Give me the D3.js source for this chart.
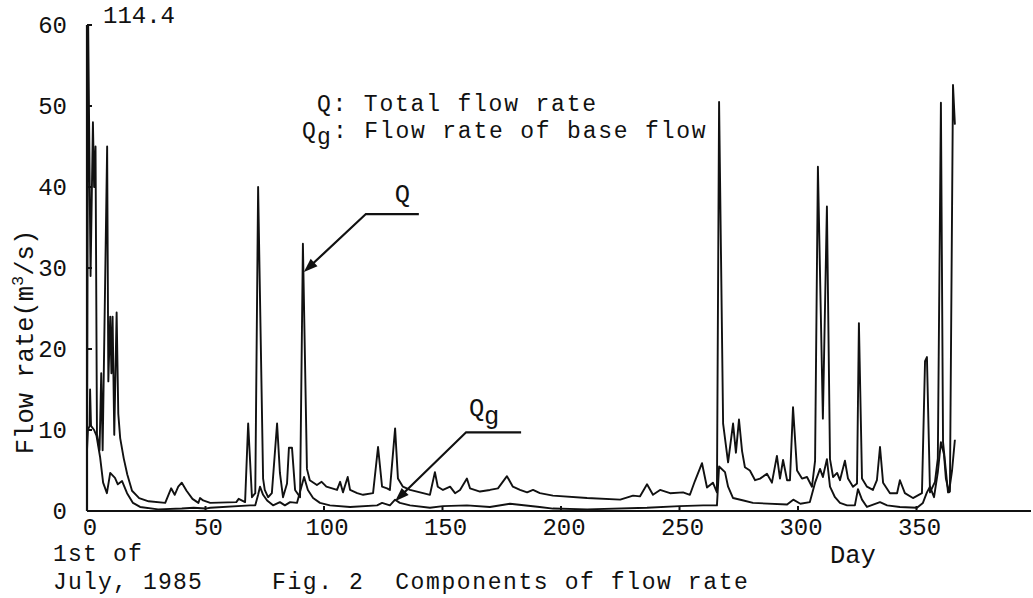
<!DOCTYPE html>
<html>
<head>
<meta charset="utf-8">
<script src="https://cdn.jsdelivr.net/npm/d3@7"></script>
<style>
  body { margin: 0; background: #fff; }
  text { font-family: "Liberation Mono", "DejaVu Sans Mono", monospace; fill: #111; }
</style>
</head>
<body>
<svg id="chart" width="1033" height="598"></svg>
<script>
// ---- data (day, m3/s) ----
var qDays = [0,0.5,1.5,2.5,3,3.6,4.2,5.3,6,6.6,8.5,9,9.8,10.3,10.8,11.5,12.5,13.2,14,15.5,17,19,22,26,33,35.5,37,38.5,40,42,44.5,47,
  47.7,49,52,63,64,66.7,68,69.6,71,72.2,74.3,75,76.4,78,80.2,81.4,82.7,84.4,85.2,86.5,87.8,89.9,91.1,92.8,94,97,99,101,105.5,106.8,108,110,111,114,116.5,
  120.7,122.8,124.5,126.6,127.8,130,131.2,133.3,136.3,141.8,144.7,146.8,148,150.2,153.2,155.3,157.4,160.3,161.6,165.8,170,173.4,177.2,179.7,182.7,185.7,188.2,191.1,196.6,
  211,225,230.4,233.3,236.3,238.8,241.8,246,251.5,254.4,256.5,259.5,261.6,264.1,265.8,266.7,268.4,270.5,272.6,273.8,275.1,276.4,277.6,279.7,281.9,284,286.9,289,
  291.1,292.4,293.7,295.4,296.6,297.9,299.6,301.7,303.8,305.9,307.2,308.4,310.5,312.2,313.5,314.8,316.5,317.7,319.8,321.1,323.2,324.9,325.7,327,329.1,331.6,333.3,
  334.6,335.9,338.8,341.8,343,345.1,348.5,352.3,353.6,354.4,355.7,357.8,359,360.3,361.2,363.3,364.1,365.4,366.2];
var qValues = [7.5,114.4,29,48,40,45,9.5,7.5,17,7.5,45,16,24,17,24,9.4,24.5,12,9,6.5,4.5,2.5,1.6,1.2,1.0,2.8,2.0,3.0,3.5,2.5,1.5,1.0,
  1.6,1.3,1.0,1.1,1.5,1.1,10.8,1.7,2.2,40,4,2.6,1.7,2.2,10.8,4.7,1.7,3.4,7.8,7.8,2.6,1.7,33,5.2,3.8,3.2,3.6,3.0,2.6,3.6,2.3,4.2,2.6,2.2,2.0,
  2.2,7.9,3.0,2.8,2.6,10.2,4.0,3.0,2.6,2.2,2.0,4.8,3.0,2.6,3.0,2.2,2.6,4.0,2.8,2.4,2.6,2.8,4.3,3.0,2.6,2.3,2.6,2.2,1.9,
  1.6,1.4,1.9,1.8,3.3,2.0,2.6,2.2,2.3,2.0,3.7,5.9,2.9,3.5,2.3,50.5,10.8,6,10.8,7.2,11.3,7.4,5.4,5.0,3.8,4.0,4.6,3.5,
  6.8,4.0,6.3,3.8,3.8,12.8,5.0,4.0,4.2,3.0,6.2,42.5,11.4,37.6,6.4,4.2,4.7,3.8,6.2,4.0,3.0,3.4,23.2,4.0,3.0,2.6,3.8,
  7.9,3.5,2.2,2.2,3.8,2.2,1.6,2.2,18.5,19,2.3,3.6,6.5,50.4,8.5,2.3,2.4,52.6,47.7];

var qgDays = [0,0.4,1.1,1.3,1.7,3,4,5.5,6.8,8.4,9.8,11.8,13,14.8,16.9,19.4,22.4,30,40,45,50,
  52,68.8,71,72.2,73,74.3,76,78.5,81.4,83.5,85.7,88.6,91.6,93.2,95.4,98.3,102.5,111,122.4,124.5,127.8,130,132,136.3,144.7,150.2,160.3,170,178.5,191,196.6,
  211,236.3,250,260,265.8,266.7,269.2,270.5,272.6,277,281,295.4,298,301,305,307.2,309.3,310.5,312.2,313.5,315.6,317.7,320.7,324,325.3,327,329.1,
  334.6,337.6,343,350.2,352.7,354.4,355.7,357.4,359,360.3,361.6,362.4,363.7,365,366.2];
var qgValues = [7.5,10,10.5,15,10.5,10,9.3,6.7,3.5,2.2,4.7,4.1,3.3,3.7,2.2,1.0,0.5,0.2,0.3,0.4,0.3,
  0.4,0.7,0.7,2.0,3.0,2.0,1.3,0.7,1.1,0.7,1.1,1.0,4.2,2.6,1.6,1.0,0.7,0.5,0.7,1.0,0.7,1.4,1.0,0.7,0.4,0.6,0.7,0.5,0.9,0.5,0.3,
  0.2,0.4,0.6,0.7,0.7,5.5,4.8,3.0,1.6,1.3,1.0,0.8,1.4,0.9,1.1,3.5,5.2,4.2,6.4,3.0,1.7,1.0,0.7,0.7,2.7,1.4,0.5,
  1.1,0.7,0.5,0.4,1.0,2.3,3.0,1.7,4.8,8.5,7.0,4.0,2.3,5.0,8.8];

var xTicks = [0, 50, 100, 150, 200, 250, 300, 350];
var yTicks = [0, 10, 20, 30, 40, 50, 60];

var svg = d3.select("#chart");
var font = 25.5;

var x = d3.scaleLinear().domain([0, 350]).range([87, 916.5]);
var y = d3.scaleLinear().domain([0, 60]).range([511, 25]).clamp(true);

var line = d3.line()
    .x(function(d){ return x(d[0]); })
    .y(function(d){ return y(d[1]); });

var qData = d3.zip(qDays, qValues);
var qgData = d3.zip(qgDays, qgValues);

// series
svg.append("path").datum(qgData)
    .attr("d", line).attr("fill", "none")
    .attr("stroke", "#111").attr("stroke-width", 1.9).attr("stroke-linejoin", "round");
svg.append("path").datum(qData)
    .attr("d", line).attr("fill", "none")
    .attr("stroke", "#111").attr("stroke-width", 1.9).attr("stroke-linejoin", "round");

// axes (drawn by hand to get the inward ticks of the original)
svg.append("line").attr("x1", x(0)).attr("x2", x(0)).attr("y1", y(60)).attr("y2", y(0))
    .attr("stroke", "#111").attr("stroke-width", 2.2);
svg.append("line").attr("x1", x(0)).attr("x2", 1031).attr("y1", y(0)).attr("y2", y(0))
    .attr("stroke", "#111").attr("stroke-width", 2.2);

svg.selectAll("line.ytick").data(yTicks.slice(1)).enter().append("line")
    .attr("class", "ytick")
    .attr("x1", x(0)).attr("x2", x(0) + 5)
    .attr("y1", function(d){ return y(d); }).attr("y2", function(d){ return y(d); })
    .attr("stroke", "#111").attr("stroke-width", 2);
svg.selectAll("text.ylab").data(yTicks).enter().append("text")
    .attr("class", "ylab")
    .attr("x", 67).attr("y", function(d){ return y(d) + 8; })
    .attr("text-anchor", "end").attr("font-size", 24)
    .text(function(d){ return d; });

svg.selectAll("line.xtick").data(xTicks.slice(1)).enter().append("line")
    .attr("class", "xtick")
    .attr("x1", function(d){ return x(d); }).attr("x2", function(d){ return x(d); })
    .attr("y1", y(0)).attr("y2", y(0) - 5)
    .attr("stroke", "#111").attr("stroke-width", 2);
svg.selectAll("text.xlab").data(xTicks).enter().append("text")
    .attr("class", "xlab")
    .attr("x", function(d){ return x(d) + 3; }).attr("y", 535)
    .attr("text-anchor", "middle").attr("font-size", 24)
    .text(function(d){ return d; });

// peak value above the clipped first spike
svg.append("text").attr("x", 103).attr("y", 23).attr("font-size", 24).text("114.4");

// axis titles and caption
var yt = svg.append("text").attr("transform", "translate(33,342) rotate(-90)")
    .attr("text-anchor", "middle").attr("font-size", font);
yt.append("tspan").text("Flow rate(m");
yt.append("tspan").attr("font-size", 17).attr("dy", -10).text("3");
yt.append("tspan").attr("dy", 10).text("/s)");

svg.append("text").attr("x", 830).attr("y", 563).attr("font-size", font).text("Day");
svg.append("text").attr("x", 53).attr("y", 561).attr("font-size", 23)
    .attr("letter-spacing", 1.2).text("1st of");
svg.append("text").attr("x", 53).attr("y", 589).attr("font-size", 23)
    .attr("letter-spacing", 1.2).text("July, 1985");
svg.append("text").attr("x", 272).attr("y", 589).attr("font-size", 23)
    .attr("letter-spacing", 1.6)
    .attr("xml:space", "preserve").style("white-space", "pre")
    .text("Fig. 2  Components of flow rate");

// legend
svg.append("text").attr("x", 317).attr("y", 111).attr("font-size", 23)
    .attr("letter-spacing", 1.8).text("Q: Total flow rate");
var l2 = svg.append("text").attr("y", 138).attr("font-size", 23).attr("letter-spacing", 1.8);
l2.append("tspan").attr("x", 302).text("Q");
l2.append("tspan").attr("x", 317).attr("dy", 6).text("g");
l2.append("tspan").attr("x", 333).attr("dy", -6).text(": Flow rate of base flow");

// call-out arrows
function callout(tipDay, tipVal, dx, dy, len) {
  var tx = x(tipDay), ty = y(tipVal);
  var kx = tx + dx, ky = ty - dy;
  var ang = Math.atan2(ty - ky, tx - kx);
  var hl = 14, hw = 5;
  svg.append("path")
      .attr("d", "M" + (kx + len) + "," + ky + "L" + kx + "," + ky + "L" + (tx - hl * 0.6 * Math.cos(ang)) + "," + (ty - hl * 0.6 * Math.sin(ang)))
      .attr("fill", "none").attr("stroke", "#111").attr("stroke-width", 2.2);
  var bx = tx - hl * Math.cos(ang), by = ty - hl * Math.sin(ang);
  svg.append("path")
      .attr("d", "M" + tx + "," + ty +
                 "L" + (bx - hw * Math.sin(ang)) + "," + (by + hw * Math.cos(ang)) +
                 "L" + (bx + hw * Math.sin(ang)) + "," + (by - hw * Math.cos(ang)) + "Z")
      .attr("fill", "#111");
  return [kx, ky];
}

var k1 = callout(91.5, 29.5, 62, 58, 53);
svg.append("text").attr("x", k1[0] + 29).attr("y", k1[1] - 12).attr("font-size", font).text("Q");

var k2 = callout(130, 1.2, 71, 69, 55);
var ql = svg.append("text").attr("y", k2[1] - 16).attr("font-size", font);
ql.append("tspan").attr("x", k2[0] + 3).text("Q");
ql.append("tspan").attr("x", k2[0] + 18).attr("dy", 8).text("g");
</script>
</body>
</html>
